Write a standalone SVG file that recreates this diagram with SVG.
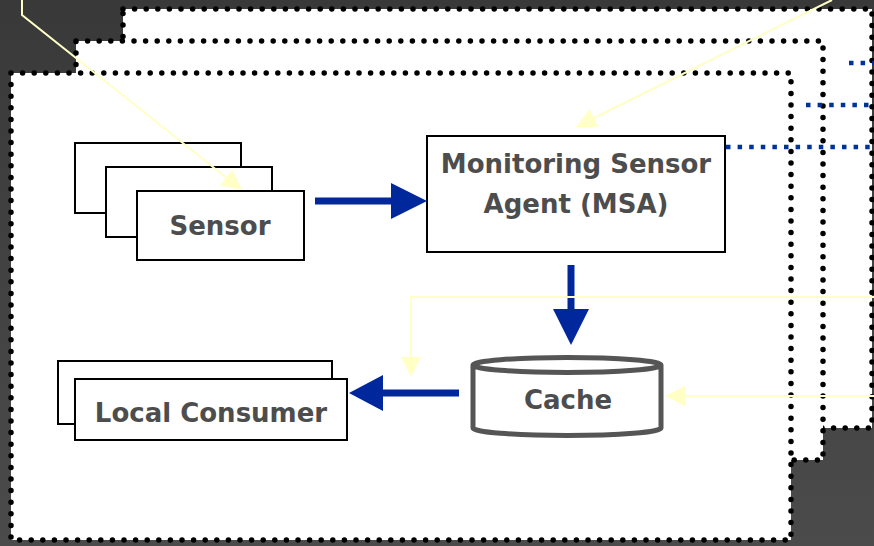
<svg xmlns="http://www.w3.org/2000/svg" width="874" height="546" viewBox="0 0 874 546">
<defs>
<linearGradient id="bg" x1="0" y1="0" x2="0" y2="1">
<stop offset="0" stop-color="#393939"/>
<stop offset="1" stop-color="#4b4b4b"/>
</linearGradient>
</defs>
<style>
.panel{fill:#fff;stroke:#000;stroke-width:5.5;stroke-dasharray:0 11.6;stroke-linecap:round}
.box{fill:#fff;stroke:#000;stroke-width:2}
.lbl{font-family:"DejaVu Sans",Verdana,sans-serif;font-weight:bold;font-size:26px;fill:#4d4d4d;text-anchor:middle}
.blue{stroke:#00289c;stroke-width:7;fill:none}
.bluehead{fill:#00289c}
.bdot{stroke:#003399;stroke-width:4.5;stroke-dasharray:4.5 7.1;fill:none}
.yel{stroke:#ffffc6;stroke-width:2;fill:none}
.yelhead{fill:#ffffc6}
</style>
<rect x="0" y="0" width="874" height="546" fill="url(#bg)"/>
<g id="panels">
<rect class="panel" x="123" y="9" width="749" height="419"/>
<rect class="panel" x="76" y="41" width="747" height="419"/>
<rect class="panel" x="11" y="73" width="780" height="467"/>
</g>
<g id="sensor">
<rect class="box" x="75" y="143" width="166" height="70"/>
<rect class="box" x="106" y="167" width="166" height="70"/>
<rect class="box" x="137" y="191" width="167" height="69"/>
<text class="lbl" x="220" y="235">Sensor</text>
</g>
<g id="msa">
<rect class="box" x="427" y="136" width="298" height="116"/>
<text class="lbl" x="576" y="173">Monitoring Sensor</text>
<text class="lbl" x="576" y="213">Agent (MSA)</text>
</g>
<g id="cache">
<path d="M473,365 V428 A94,7.5 0 0 0 661,428 V365 A94,7.5 0 0 0 473,365 A94,7.5 0 0 0 661,365" fill="#fff" stroke="#555" stroke-width="5"/>
<text class="lbl" x="568" y="409">Cache</text>
</g>
<g id="local-consumer">
<rect class="box" x="58" y="361" width="274" height="63"/>
<rect class="box" x="75" y="379" width="272" height="61"/>
<text class="lbl" x="211" y="422">Local Consumer</text>
</g>
<g id="connectors">
<line class="blue" x1="315" y1="201" x2="393" y2="201"/>
<polygon class="bluehead" points="391,183 427,201 391,219"/>
<line class="blue" x1="571" y1="265" x2="571" y2="311"/>
<polygon class="bluehead" points="553,309 589,309 571,345"/>
<line class="blue" x1="459" y1="393" x2="381" y2="393"/>
<polygon class="bluehead" points="383,375 349,393 383,411"/>
<line class="bdot" x1="849" y1="63" x2="874" y2="63"/>
<line class="bdot" x1="806" y1="105" x2="874" y2="105"/>
<line class="bdot" x1="726" y1="147" x2="874" y2="147"/>
<polyline class="yel" points="874,297 411,297 411,358"/>
<polygon class="yelhead" points="401,357 421,357 411,377"/>
<line class="yel" x1="874" y1="396" x2="684" y2="396"/>
<polygon class="yelhead" points="685,386 685,406 665,396"/>
<polyline class="yel" points="22,0 22,15 228,179"/>
<polygon class="yelhead" points="242,190 220.1,185.3 232.5,169.7"/>
<line class="yel" x1="832" y1="0" x2="592" y2="119"/>
<polygon class="yelhead" points="576,127 598.3,127.1 589.5,109.1"/>
</g>
</svg>
